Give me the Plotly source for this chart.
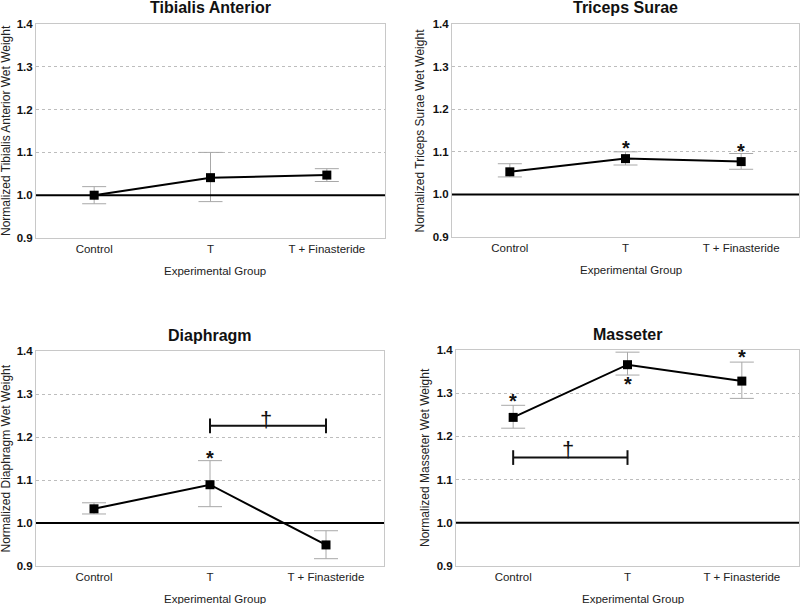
import plotly.graph_objects as go

groups = ["Control", "T", "T + Finasteride"]
xpos = [0, 1, 2]

titles = ["Tibialis Anterior", "Triceps Surae", "Diaphragm", "Masseter"]
ytitles = ["Normalized Tibialis Anterior Wet Weight",
           "Normalized Triceps Surae Wet Weight",
           "Normalized Diaphragm Wet Weight",
           "Normalized Masseter Wet Weight"]

ta_mean = [1.000, 1.041, 1.047]
ta_hi = [1.020, 1.100, 1.062]
ta_lo = [0.980, 0.985, 1.032]

ts_mean = [1.053, 1.084, 1.077]
ts_hi = [1.072, 1.100, 1.096]
ts_lo = [1.041, 1.069, 1.059]

di_mean = [1.033, 1.089, 0.949]
di_hi = [1.047, 1.145, 0.982]
di_lo = [1.021, 1.038, 0.917]

ma_mean = [1.244, 1.366, 1.328]
ma_hi = [1.272, 1.395, 1.372]
ma_lo = [1.219, 1.342, 1.288]

# significance stars: (panel, x, y)
star_panel = [1, 1, 2, 3, 3, 3]
star_x = [1, 2, 1, 0, 1, 2]
star_y = [1.108, 1.102, 1.152, 1.283, 1.322, 1.383]

# brackets: (panel, x_start, x_end, y) and daggers
br_panel = [2, 3]
br_x0 = [1, 0]
br_x1 = [2, 1]
br_y = [1.226, 1.151]
br_tick = 0.017
dag_x = [1.48, 0.48]
dag_y = [1.240, 1.170]

baseline = 1.0
yticks = [0.9, 1.0, 1.1, 1.2, 1.3, 1.4]

means = [ta_mean, ts_mean, di_mean, ma_mean]
his = [ta_hi, ts_hi, di_hi, ma_hi]
los = [ta_lo, ts_lo, di_lo, ma_lo]

W, H = 800, 604
# pixel boxes (left, right, top, bottom)
boxes = [(36, 385, 24, 238), (452, 799, 24, 237), (36, 384, 351, 566), (456, 799, 350, 566)]
ytitle_x = [6, 420, 5, 425]

fig = go.Figure()
layout = dict(width=W, height=H, margin=dict(l=0, r=0, t=0, b=0, autoexpand=False),
              paper_bgcolor="white", plot_bgcolor="white", showlegend=False,
              font=dict(family="Liberation Sans, Arial, sans-serif", color="#111"))
annotations = []
shapes = []

for i in range(4):
    l, r, t, b = boxes[i]
    xa = "xaxis" if i == 0 else f"xaxis{i+1}"
    ya = "yaxis" if i == 0 else f"yaxis{i+1}"
    xr = "x" if i == 0 else f"x{i+1}"
    yr = "y" if i == 0 else f"y{i+1}"
    layout[xa] = dict(domain=[l / W, r / W], anchor=yr, range=[-0.5, 2.5], automargin=False,
                      tickvals=xpos, ticktext=groups, showgrid=False,
                      showline=True, mirror=True, linecolor="#c8c8c8", linewidth=1,
                      ticks="", zeroline=False, fixedrange=True,
                      tickfont=dict(size=11.5, color="#222"))
    layout[ya] = dict(domain=[1 - b / H, 1 - t / H], anchor=xr, range=[0.9, 1.4], automargin=False,
                      tickvals=yticks, ticktext=[f"<b>{v:.1f}</b>" for v in yticks],
                      showgrid=True, gridcolor="#bdbdbd", griddash="dot", gridwidth=1,
                      showline=True, mirror=True, linecolor="#c8c8c8", linewidth=1,
                      ticks="", zeroline=False, fixedrange=True,
                      tickfont=dict(size=11.5, color="#111"))
    # x-axis title
    annotations.append(dict(text="Experimental Group", xref="paper", yref="paper",
                            x=(l + r + 10) / 2 / W, y=1 - (b + 33) / H,
                            xanchor="center", yanchor="middle", showarrow=False,
                            font=dict(size=11.5, color="#222")))
    # y-axis title
    annotations.append(dict(text=ytitles[i], xref="paper", yref="paper",
                            x=ytitle_x[i] / W, y=1 - (t + b) / 2 / H, textangle=-90,
                            xanchor="center", yanchor="middle", showarrow=False,
                            font=dict(size=12, color="#222")))
    shapes.append(dict(type="line", xref=f"{xr} domain", yref=yr, x0=0, x1=1,
                       y0=baseline, y1=baseline, line=dict(color="black", width=2)))
    m = means[i]
    fig.add_trace(go.Scatter(
        x=xpos, y=m, xaxis=xr, yaxis=yr, mode="lines+markers",
        line=dict(color="black", width=2),
        marker=dict(symbol="square", size=9, color="black"),
        error_y=dict(type="data", symmetric=False,
                     array=[h - v for h, v in zip(his[i], m)],
                     arrayminus=[v - lo for lo, v in zip(los[i], m)],
                     color="#a8a8a8", thickness=1, width=12)))
    annotations.append(dict(text=f"<b>{titles[i]}</b>", xref="paper", yref="paper",
                            x=(l + r) / 2 / W, y=1 - (t - 16) / H,
                            xanchor="center", yanchor="middle", showarrow=False,
                            font=dict(size=16, color="#111")))

for p, sx, sy in zip(star_panel, star_x, star_y):
    xr = "x" if p == 0 else f"x{p+1}"
    yr = "y" if p == 0 else f"y{p+1}"
    annotations.append(dict(text="<b>*</b>", x=sx, y=sy, xref=xr, yref=yr,
                            showarrow=False, font=dict(size=20, color="#111"),
                            xanchor="center", yanchor="middle"))

for p, x0, x1, y, dx, dy in zip(br_panel, br_x0, br_x1, br_y, dag_x, dag_y):
    xr = f"x{p+1}"
    yr = f"y{p+1}"
    fig.add_trace(go.Scatter(x=[x0, x1], y=[y, y], xaxis=xr, yaxis=yr, mode="lines",
                             line=dict(color="#111", width=2), hoverinfo="skip"))
    for xx in (x0, x1):
        fig.add_trace(go.Scatter(x=[xx, xx], y=[y - br_tick, y + br_tick], xaxis=xr, yaxis=yr,
                                 mode="lines", line=dict(color="#111", width=2), hoverinfo="skip"))
    annotations.append(dict(text="†", x=dx, y=dy, xref=xr, yref=yr, showarrow=False,
                            font=dict(size=22, color="#111"), xanchor="center", yanchor="middle"))

layout["annotations"] = annotations
layout["shapes"] = shapes
fig.update_layout(**layout)
fig.write_html("out.html", config={"displayModeBar": False},
               post_script="document.body.style.margin='0px';document.body.style.overflow='hidden';")
